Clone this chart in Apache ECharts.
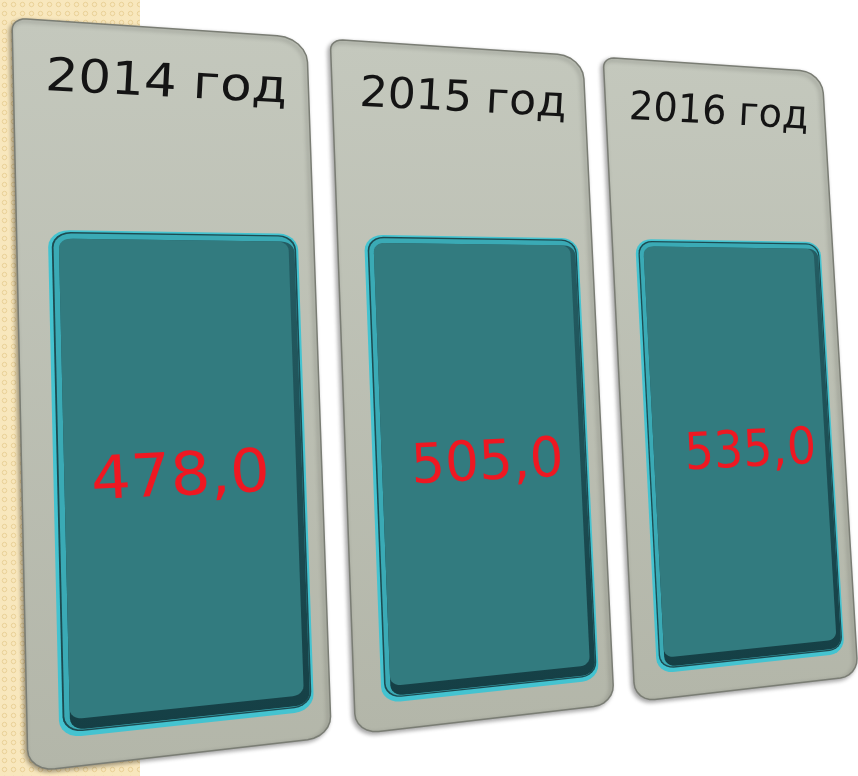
<!DOCTYPE html>
<html>
<head>
<meta charset="utf-8">
<script src="https://cdn.jsdelivr.net/npm/echarts@6/dist/echarts.min.js"></script>
<style>
html, body { margin: 0; padding: 0; background: #fff; }
#main { width: 858px; height: 776px; }
</style>
</head>
<body>
<div id="main"></div>
<script>
// данные
const years = ['2014 год', '2015 год', '2016 год']
const values = [478.0, 505.0, 535.0]

// углы всего ряда панелей на экране (перспектива)
const rowQuad = [[12, 18], [822, 72], [858, 676], [28, 772]]
const panelFill = 0.92

// проекция единичного квадрата на четырёхугольник
function makeProjection(q) {
  const [[x0, y0], [x1, y1], [x2, y2], [x3, y3]] = q
  const dx1 = x1 - x2, dx2 = x3 - x2, dx3 = x0 - x1 + x2 - x3
  const dy1 = y1 - y2, dy2 = y3 - y2, dy3 = y0 - y1 + y2 - y3
  const det = dx1 * dy2 - dx2 * dy1
  const g = (dx3 * dy2 - dx2 * dy3) / det
  const h = (dx1 * dy3 - dx3 * dy1) / det
  const a = x1 - x0 + g * x1, b = x3 - x0 + h * x3
  const d = y1 - y0 + g * y1, e = y3 - y0 + h * y3
  return (s, t) => {
    const w = g * s + h * t + 1
    return [(a * s + b * t + x0) / w, (d * s + e * t + y0) / w]
  }
}
const project = makeProjection(rowQuad)

// скруглённый прямоугольник в плоскости панелей
function roundRect(x0, y0, x1, y1, r) {
  const pts = []
  const corner = (cx, cy, rad, a0) => {
    for (let k = 0; k <= 6; k++) {
      const a = a0 + k / 6 * Math.PI / 2
      pts.push([cx + rad * Math.cos(a), cy + rad * Math.sin(a)])
    }
  }
  corner(x0 + r[0], y0 + r[0], r[0], Math.PI)
  corner(x1 - r[1], y0 + r[1], r[1], 1.5 * Math.PI)
  corner(x1 - r[2], y1 - r[2], r[2], 0)
  corner(x0 + r[3], y1 - r[3], r[3], 0.5 * Math.PI)
  return pts
}

// фон слева в точку
const dots = document.createElement('canvas')
dots.width = 9
dots.height = 9
const dctx = dots.getContext('2d')
dctx.fillStyle = '#f8e7bd'
dctx.fillRect(0, 0, 9, 9)
dctx.strokeStyle = '#ead197'
dctx.lineWidth = 1
dctx.beginPath()
dctx.arc(4.5, 4.5, 2.2, 0, Math.PI * 2)
dctx.stroke()

const renderPanel = (params, api) => {
  const idx = params.dataIndex
  const band = api.size([1, 0])[0]
  const half = band * panelFill / 2
  const cx = api.coord([idx, 0])[0]
  const xL = api.coord([0, 0])[0] - half
  const xR = api.coord([years.length - 1, 0])[0] + half
  const yTop = api.coord([idx, 0])[1]
  const yBot = api.coord([idx, 1])[1]
  const toScreen = (p) => project((p[0] - xL) / (xR - xL), (p[1] - yTop) / (yBot - yTop))
  const poly = (pts) => pts.map(toScreen)
  const yAt = (t) => api.coord([idx, t])[1]

  // локальный масштаб и наклон
  const local = (p) => {
    const o = toScreen(p)
    const ex = toScreen([p[0] + 1, p[1]])
    const ey = toScreen([p[0], p[1] + 1])
    return {
      o: o,
      rot: -Math.atan2(ex[1] - o[1], ex[0] - o[0]),
      sx: Math.hypot(ex[0] - o[0], ex[1] - o[1]),
      sy: Math.hypot(ey[0] - o[0], ey[1] - o[1])
    }
  }

  const px0 = cx - half, px1 = cx + half
  const tx0 = px0 + 2 * half * 0.11, tx1 = px1 - 2 * half * 0.065
  const ty0 = yAt(0.29), ty1 = yAt(0.955)

  const title = local([cx, yAt(0.08)])
  const label = local([cx + half * (0.02 + idx * 0.05), yAt(0.63)])

  return {
    type: 'group',
    children: [
      {
        type: 'polygon',
        shape: { points: poly(roundRect(px0, yTop, px1, yBot, [12, 28, 22, 22])) },
        style: {
          fill: new echarts.graphic.LinearGradient(0, 0, 0, 1, [
            { offset: 0, color: '#c4c8bd' },
            { offset: 1, color: '#b3b6a9' }
          ]),
          stroke: '#7a7d74',
          lineWidth: 1.5,
          shadowBlur: 4,
          shadowOffsetX: -2,
          shadowOffsetY: 2,
          shadowColor: 'rgba(0,0,0,0.35)'
        }
      },
      {
        type: 'polygon',
        shape: { points: poly(roundRect(tx0 - 3, ty0 - 2, tx1 + 2, ty1 + 5, [18, 18, 18, 18])) },
        style: { fill: '#44c3d0' }
      },
      {
        type: 'polygon',
        shape: { points: poly(roundRect(tx0, ty0, tx1, ty1, [16, 16, 16, 16])) },
        style: { fill: '#1d4b51' }
      },
      {
        type: 'polygon',
        shape: { points: poly(roundRect(tx0 + 1.5, ty0 + 1.5, tx1 - 1.5, ty1 - 1.5, [15, 15, 15, 15])) },
        style: { fill: '#3aaab5' }
      },
      {
        type: 'polygon',
        shape: { points: poly(roundRect(tx0 + 6, ty0 + 7, tx1 - 1.5, ty1 - 2, [12, 12, 14, 12])) },
        style: {
          fill: new echarts.graphic.LinearGradient(0, 0, 0, 1, [
            { offset: 0, color: '#245d63' },
            { offset: 1, color: '#153f45' }
          ])
        }
      },
      {
        type: 'polygon',
        shape: { points: poly(roundRect(tx0 + 6, ty0 + 7, tx1 - 7, ty1 - 13, [10, 10, 10, 10])) },
        style: { fill: '#327b7f' }
      },
      {
        type: 'text',
        x: title.o[0],
        y: title.o[1],
        rotation: title.rot,
        scaleX: title.sx,
        scaleY: title.sy * 1.1,
        style: {
          text: years[idx],
          x: 0,
          y: 0,
          align: 'center',
          verticalAlign: 'middle',
          fontFamily: 'DejaVu Sans',
          fontSize: 46,
          fill: '#141414'
        }
      },
      {
        type: 'text',
        x: label.o[0],
        y: label.o[1],
        rotation: 0.05,
        scaleX: label.sx,
        scaleY: label.sy * 1.15,
        style: {
          text: api.value(1).toFixed(1).replace('.', ','),
          x: 0,
          y: 0,
          align: 'center',
          verticalAlign: 'middle',
          fontFamily: 'DejaVu Sans',
          fontSize: 55,
          fill: '#ee1822'
        }
      }
    ]
  }
}

const chart = echarts.init(document.getElementById('main'))
chart.setOption({
  animation: false,
  backgroundColor: '#ffffff',
  graphic: [{
    type: 'rect',
    left: 0,
    top: 0,
    z: -10,
    shape: { width: 140, height: 776 },
    style: { fill: { image: dots, repeat: 'repeat' } }
  }],
  grid: { left: 0, right: 0, top: 0, bottom: 0 },
  xAxis: { type: 'category', data: years, show: false },
  yAxis: { type: 'value', min: 0, max: 1, inverse: true, show: false },
  series: [{
    type: 'custom',
    renderItem: renderPanel,
    data: values.map((v, i) => [i, v])
  }]
})
</script>
</body>
</html>
